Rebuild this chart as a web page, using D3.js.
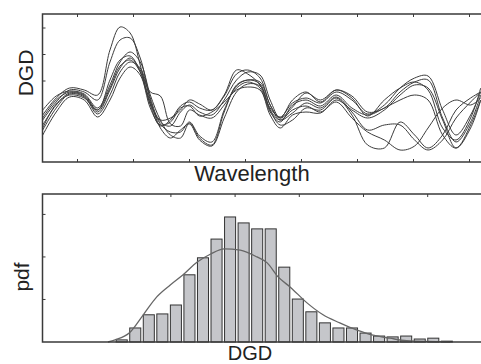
<!DOCTYPE html>
<html>
<head>
<meta charset="utf-8">
<script src="https://cdn.jsdelivr.net/npm/d3@7"></script>
<style>
  html, body { margin: 0; padding: 0; background: #fff; }
  svg { display: block; }
  text { font-family: "Liberation Sans", Arial, sans-serif; fill: #222; }
</style>
</head>
<body>
<div id="chart"></div>
<script>
// ---- top panel: DGD vs wavelength, several measurements ----
const wavelengths = [1526.9, 1528.1, 1529.3, 1530.6, 1531.8, 1532.9, 1533.8, 1534.7, 1535.6, 1536.5,
  1537.4, 1538.3, 1539.2, 1540.0, 1540.9, 1542.0, 1543.1, 1544.2, 1545.2, 1546.3,
  1547.2, 1548.1, 1549.2, 1550.4, 1551.7, 1553.1, 1554.5, 1555.9, 1557.4, 1558.8,
  1560.1, 1561.3, 1562.6, 1563.8, 1565.1, 1566.0];

const run1 = [4.7, 6.4, 7.4, 7.2, 6.7, 11.2, 13.5, 12.9, 9.7, 5.7, 3.6, 4.2, 5.6, 6.0, 5.4, 5.2, 6.7, 9.2, 8.8, 7.7, 5.4, 4.5, 5.9, 6.4, 5.9, 7.0, 6.2, 4.8, 5.7, 7.4, 8.4, 8.6, 5.2, 2.7, 4.7, 7.0];
const run2 = [4.2, 6.0, 7.2, 7.0, 6.2, 10.0, 12.2, 12.4, 10.4, 6.4, 4.0, 3.6, 5.0, 5.7, 5.0, 4.7, 6.2, 8.2, 9.0, 8.7, 6.2, 4.4, 5.5, 6.9, 6.2, 7.2, 6.6, 5.0, 5.4, 7.0, 8.0, 8.2, 4.4, 2.0, 4.0, 6.7];
const run3 = [5.2, 6.6, 7.1, 6.8, 5.4, 7.7, 10.0, 11.0, 10.0, 6.7, 4.2, 2.7, 2.4, 3.9, 2.4, 1.7, 5.0, 7.7, 8.2, 8.0, 5.7, 4.2, 4.9, 5.9, 5.4, 6.5, 5.0, 3.2, 3.7, 3.7, 2.2, 1.2, 2.2, 4.4, 6.0, 7.0];
const run4 = [3.7, 5.7, 6.9, 6.6, 5.0, 7.2, 9.4, 10.4, 9.2, 7.0, 6.6, 3.8, 3.6, 5.2, 4.7, 4.4, 5.7, 7.4, 8.0, 7.4, 5.0, 4.0, 5.7, 6.2, 5.6, 6.7, 5.4, 4.7, 5.4, 6.2, 6.7, 6.2, 2.7, 1.4, 3.7, 6.2];
const run5 = [3.2, 5.4, 6.8, 6.5, 4.8, 6.7, 9.0, 10.0, 9.4, 6.2, 3.4, 2.4, 3.2, 3.8, 2.2, 1.6, 4.4, 7.0, 7.8, 7.6, 5.2, 3.7, 4.2, 5.4, 5.2, 6.4, 4.7, 1.7, 1.4, 4.0, 2.7, 1.4, 2.7, 5.2, 6.4, 7.0];
const run6 = [2.7, 5.0, 6.5, 6.2, 4.5, 6.2, 8.4, 9.5, 8.7, 5.4, 3.7, 4.0, 5.4, 5.6, 4.6, 5.0, 6.0, 7.2, 7.5, 7.2, 4.7, 3.4, 4.7, 5.0, 4.9, 6.2, 5.2, 4.4, 5.2, 6.7, 7.7, 7.4, 4.2, 1.4, 3.4, 6.2];
const run7 = [4.4, 6.2, 7.0, 6.7, 5.2, 8.2, 10.2, 10.6, 9.0, 5.8, 4.2, 4.4, 5.2, 6.2, 5.8, 5.2, 6.6, 8.8, 9.2, 8.4, 5.7, 4.4, 6.2, 7.0, 6.0, 7.2, 6.4, 4.6, 6.2, 7.4, 8.0, 7.2, 3.4, 2.2, 4.4, 7.4];
const run8 = [3.4, 5.8, 6.7, 6.4, 5.2, 7.4, 9.6, 10.2, 9.0, 6.0, 3.8, 3.0, 3.0, 4.0, 2.6, 2.0, 5.2, 7.6, 8.2, 7.8, 5.2, 4.2, 5.2, 5.6, 5.0, 6.0, 4.4, 3.0, 2.2, 1.2, 1.6, 3.4, 5.4, 6.2, 5.7, 6.4];
const runs = [run1, run2, run3, run4, run5, run6, run7, run8];

const wavelengthTicks = [1530, 1535, 1540, 1545, 1550, 1555, 1560, 1565];
const dgdTicks = [8.1, 10.75, 13.4];

// ---- bottom panel: histogram of DGD with fitted pdf ----
const binWidth = 0.211;
const binStarts = [1.14, 1.351, 1.562, 1.773, 1.984, 2.195, 2.406, 2.617, 2.828, 3.039, 3.25, 3.461,
  3.672, 3.883, 4.094, 4.305, 4.516, 4.727, 4.938, 5.149, 5.36, 5.571, 5.782, 5.993, 6.204];
const binCounts = [0.05, 0.33, 0.64, 0.66, 0.87, 1.58, 1.98, 2.42, 2.94, 2.80, 2.66, 2.66, 1.76,
  1.01, 0.71, 0.45, 0.33, 0.33, 0.21, 0.14, 0.12, 0.14, 0.07, 0.09, 0.02];

const fitX = [1.02, 1.13, 1.35, 1.57, 1.78, 1.99, 2.19, 2.41, 2.62, 2.83, 3.08, 3.34, 3.50, 3.67,
  3.86, 4.12, 4.37, 4.63, 4.90, 5.15, 5.41, 5.67, 6.35];
const fitY = [0, 0.05, 0.21, 0.64, 1.06, 1.34, 1.58, 1.88, 2.07, 2.19, 2.16, 2.0, 1.86, 1.53,
  1.29, 0.92, 0.64, 0.45, 0.28, 0.16, 0.09, 0.03, 0];

const histXTicks = [1, 2, 3, 4, 5, 6];
const pdfTicks = [1, 2, 3];

const width = 481, height = 364;
const axisColor = '#3a3a3a';

const svg = d3.select('#chart')
  .append('svg')
  .attr('width', width)
  .attr('height', height);

// draw a box with inward ticks (right side runs off the picture)
function frame(x, y, top, bottom, xTicks, yTicks, tickBottom) {
  const g = svg.append('g');
  const [x0, x1] = x.range();
  g.append('path')
    .attr('d', `M${x1},${top}H${x0}V${bottom}H${x1}`)
    .attr('fill', 'none')
    .attr('stroke', axisColor)
    .attr('stroke-width', 1.5);
  xTicks.forEach(t => {
    g.append('line')
      .attr('x1', x(t)).attr('x2', x(t))
      .attr('y1', top).attr('y2', top + 3)
      .attr('stroke', axisColor);
    if (tickBottom) {
      g.append('line')
        .attr('x1', x(t)).attr('x2', x(t))
        .attr('y1', bottom).attr('y2', bottom - 3)
        .attr('stroke', axisColor);
    }
  });
  yTicks.forEach(t => {
    g.append('line')
      .attr('x1', x0).attr('x2', x0 + 3)
      .attr('y1', y(t)).attr('y2', y(t))
      .attr('stroke', axisColor);
  });
}

// top panel
const xW = d3.scaleLinear().domain([1526.875, 1567]).range([42.5, 491.9]);
const yD = d3.scaleLinear().domain([0, 14.8]).range([162, 14]);

const line = d3.line()
  .x((d, i) => xW(wavelengths[i]))
  .y(d => yD(d))
  .curve(d3.curveCatmullRom.alpha(0.5));

svg.append('g')
  .selectAll('path')
  .data(runs)
  .enter()
  .append('path')
  .attr('d', line)
  .attr('fill', 'none')
  .attr('stroke', '#3c3c3c')
  .attr('stroke-width', 1);

frame(xW, yD, 14, 162, wavelengthTicks, dgdTicks, true);

svg.append('text')
  .attr('x', 252).attr('y', 181)
  .attr('text-anchor', 'middle')
  .style('font-size', '22px')
  .text('Wavelength');

svg.append('text')
  .attr('transform', 'translate(33,73) rotate(-90)')
  .attr('text-anchor', 'middle')
  .style('font-size', '21px')
  .text('DGD');

// bottom panel
const xG = d3.scaleLinear().domain([0, 7]).range([42.5, 491.9]);
const yP = d3.scaleLinear().domain([0, 3.48]).range([342, 194]);

svg.append('g')
  .selectAll('rect')
  .data(binCounts)
  .enter()
  .append('rect')
  .attr('x', (d, i) => xG(binStarts[i]) + 0.5)
  .attr('y', d => yP(d))
  .attr('width', xG(binWidth) - xG(0) - 2.5)
  .attr('height', d => yP(0) - yP(d))
  .attr('fill', '#c5c6ca')
  .attr('stroke', '#333')
  .attr('stroke-width', 1);

const fitLine = d3.line()
  .x((d, i) => xG(fitX[i]))
  .y(d => yP(d))
  .curve(d3.curveMonotoneX);

svg.append('path')
  .datum(fitY)
  .attr('d', fitLine)
  .attr('fill', 'none')
  .attr('stroke', '#666')
  .attr('stroke-width', 1.3);

frame(xG, yP, 194, 342, histXTicks, pdfTicks, false);

svg.append('text')
  .attr('x', 250).attr('y', 360)
  .attr('text-anchor', 'middle')
  .style('font-size', '20px')
  .text('DGD');

svg.append('text')
  .attr('transform', 'translate(29,277) rotate(-90)')
  .attr('text-anchor', 'middle')
  .style('font-size', '21px')
  .text('pdf');
</script>
</body>
</html>
